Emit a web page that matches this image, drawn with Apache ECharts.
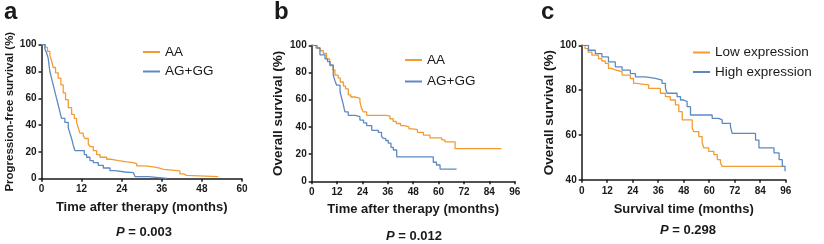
<!DOCTYPE html>
<html>
<head>
<meta charset="utf-8">
<script src="https://cdn.jsdelivr.net/npm/echarts@6/dist/echarts.min.js"></script>
<style>
  body { margin: 0; background: #fff; }
  #chart { width: 824px; height: 244px; }
</style>
</head>
<body>
<div id="chart"></div>
<script>
// panel a: progression-free survival
const pfsAaTime = [0, 1.2, 1.8, 2.5, 3.0, 3.5, 4.2, 5.0, 5.8, 6.5, 7.2, 8.0, 9.0, 9.8, 10.5, 11.0, 11.5, 12.5, 13.0, 14.0, 14.5, 15.5, 16.5, 17.5, 19.5, 21, 23, 25.5, 27.5, 28.5, 31, 33.5, 35, 36.5, 41.4, 42.5, 43.4, 52.9]
const pfsAaSurv = [100, 98, 95, 92, 88, 83, 79, 75, 70, 64, 59, 53, 48, 45, 42, 38, 34, 32, 30, 26, 24, 21, 18, 16, 14.5, 13.5, 12.5, 12, 11, 9.5, 8.8, 8, 7, 5.8, 3.6, 2.5, 1.5, 1.5]
const pfsAgTime = [0, 1.0, 1.5, 2.0, 2.5, 3.0, 3.5, 4.0, 4.5, 5.0, 5.5, 6.0, 7.0, 8.0, 8.5, 9.0, 9.5, 10.0, 12.8, 13.5, 14.5, 15.5, 17, 18.5, 20.5, 22, 25, 27.5, 28, 32, 37.5]
const pfsAgSurv = [100, 97, 94, 90, 80, 75, 70, 65, 60, 55, 50, 45, 42, 38, 34, 30, 25, 21, 18, 16, 13.5, 12, 10, 8, 6, 5, 4.5, 3.5, 1.5, 0.3, 0.3]

// panel b: overall survival by genotype
const osAaTime = [0, 2, 4, 5.5, 7, 8.5, 10, 11, 12.5, 13.5, 15, 16, 17.3, 18.5, 20.5, 22.8, 23.5, 24.4, 26, 35.5, 37, 38.5, 40, 42, 44, 46, 48, 50, 52.8, 55.9, 61.5, 63, 67.8, 89.7]
const osAaSurv = [100, 98, 96, 94, 90, 85, 82, 78, 76, 73, 70, 68, 63.5, 62, 61, 58.5, 54, 51, 48.5, 48, 46, 44, 42.5, 41, 40, 38.5, 38, 36, 34, 32, 30.5, 29, 24, 24]
const osAgTime = [0, 2.5, 3.9, 6.3, 7.5, 8.7, 10.2, 11.0, 11.8, 13.4, 14.2, 15, 15.7, 17.3, 20.5, 22.8, 24.5, 26, 28.4, 31.5, 33, 33.9, 35, 36.2, 37.5, 38.6, 40.2, 55.1, 57.5, 59, 60.7, 68.5]
const osAgSurv = [100, 98, 93, 90, 88, 85.5, 78, 74, 70.7, 66, 61, 56, 51, 48.5, 47.5, 45, 43, 41, 37.5, 36, 33, 31.5, 30, 28, 25, 23, 18, 18, 14, 12, 9, 9]

// panel c: overall survival by expression
const lowTime = [0, 1.6, 3, 4.8, 7.9, 9.5, 11.1, 12.6, 14, 15.8, 19, 22.9, 24.4, 26, 28.4, 31.5, 37, 39.4, 41.7, 44.1, 45.7, 47.3, 52, 52.7, 55.1, 56.7, 57.5, 59.8, 62.2, 63.8, 65.3, 66.1, 95.5]
const lowSurv = [100, 98.5, 97, 95.6, 94, 93, 91.9, 89.7, 89, 88.2, 86.7, 85.2, 83, 82.7, 82.3, 80.8, 78.6, 77.1, 75.6, 73.4, 70.4, 66.7, 63, 61.5, 59.3, 56.4, 54.2, 52.7, 51.2, 49, 47.5, 46, 46]
const highTime = [0, 3.2, 6.4, 9.5, 12.6, 15.8, 19, 22.9, 25.3, 30, 34.7, 37.8, 39.4, 40.2, 44.9, 46.5, 48, 49.6, 51.2, 61.4, 64.5, 66.1, 70, 70.8, 81.8, 83.4, 90.5, 92.9, 94.4, 95.7, 96]
const highSurv = [100, 97.8, 96.3, 94.8, 92.6, 90.4, 88.9, 87.4, 85.9, 85.2, 84.5, 83, 80.8, 78.6, 77.1, 75.6, 74.9, 72.6, 68.9, 67.4, 66.7, 65.2, 63.7, 60.7, 57.7, 54.2, 52, 49, 46, 43.8, 43.8]

const xMaxes = [60, 96, 96]
const yMins = [0, 0, 40]
const xTitles = ['Time after therapy (months)', 'Time after therapy (months)', 'Survival time (months)']
const yTitles = ['Progression-free survival (%)', 'Overall survival (%)', 'Overall survival (%)']
const pValues = ['0.003', '0.012', '0.298']
const letters = ['a', 'b', 'c']

const ORANGE = '#F49B33'
const BLUE = '#5D89C3'
const INK = '#1a1a1a'
const FONT = 'Liberation Sans'

function zip(t, s) {
  return t.map((v, i) => [v, s[i]])
}

const grids = [
  { left: 41.5, top: 44.7, width: 200.5, height: 134 },
  { left: 311.7, top: 45.3, width: 203, height: 136 },
  { left: 581.7, top: 45.3, width: 204, height: 134.5 }
]
const yNameSize = [11.5, 13.5, 13.5]
const yNameGap = [25, 26, 24.5]
const xNameGap = [22, 21.5, 23]
const pCenter = [144, 414, 688]
const pTop = [226, 230, 224]
const letterLeft = [4, 274, 541]

const axisLine = { onZero: false, lineStyle: { color: INK, width: 1.5 } }
const axisTick = { length: 3, lineStyle: { color: INK, width: 1.5 } }

const xAxis = grids.map((g, i) => ({
  type: 'value', gridIndex: i, min: 0, max: xMaxes[i], interval: 12,
  splitLine: { show: false }, axisLine: axisLine, axisTick: axisTick,
  axisLabel: { color: INK, fontFamily: FONT, fontWeight: 'bold', fontSize: 10, margin: 6 },
  name: xTitles[i], nameLocation: 'middle', nameGap: xNameGap[i],
  nameTextStyle: { color: INK, fontFamily: FONT, fontWeight: 'bold', fontSize: 13 }
}))

const yAxis = grids.map((g, i) => ({
  type: 'value', gridIndex: i, min: yMins[i], max: 100, interval: 20,
  splitLine: { show: false }, axisLine: axisLine, axisTick: axisTick,
  axisLabel: { color: INK, fontFamily: FONT, fontWeight: 'bold', fontSize: 10, margin: 5 },
  name: yTitles[i], nameLocation: 'middle', nameGap: yNameGap[i],
  nameTextStyle: { color: INK, fontFamily: FONT, fontWeight: 'bold', fontSize: yNameSize[i] }
}))

function km(name, idx, color, t, s) {
  return {
    name: name, type: 'line', xAxisIndex: idx, yAxisIndex: idx,
    step: 'end', showSymbol: false, symbol: 'none',
    lineStyle: { color: color, width: 1.3 }, itemStyle: { color: color },
    data: zip(t, s)
  }
}

const legendBase = {
  orient: 'vertical', icon: 'rect', itemWidth: 17, itemHeight: 2,
  selectedMode: false, padding: 0,
  textStyle: { color: INK, fontFamily: FONT, fontSize: 13.5 }
}

const titles = []
letters.forEach((l, i) => {
  titles.push({ text: l, left: letterLeft[i], top: 0.5, padding: 0,
    textStyle: { color: INK, fontFamily: FONT, fontWeight: 'bold', fontSize: 24 } })
  titles.push({ text: '{i|P} = ' + pValues[i], left: pCenter[i], top: pTop[i], textAlign: 'center', padding: 0,
    textStyle: { color: INK, fontFamily: FONT, fontWeight: 'bold', fontSize: 13,
      rich: { i: { fontStyle: 'italic', fontWeight: 'bold', fontFamily: FONT, fontSize: 13, color: INK } } } })
})

const chart = echarts.init(document.getElementById('chart'))
chart.setOption({
  backgroundColor: '#fff',
  animation: false,
  title: titles,
  grid: grids,
  xAxis: xAxis,
  yAxis: yAxis,
  legend: [
    Object.assign({}, legendBase, { data: ['AA', 'AG+GG'], left: 143, top: 45, itemGap: 5.5 }),
    Object.assign({}, legendBase, { data: ['AA', 'AG+GG'], left: 405, top: 53, itemGap: 7.5 }),
    Object.assign({}, legendBase, { data: ['Low expression', 'High expression'], left: 693, top: 45.5, itemGap: 5.5 })
  ],
  series: [
    km('AA', 0, ORANGE, pfsAaTime, pfsAaSurv),
    km('AG+GG', 0, BLUE, pfsAgTime, pfsAgSurv),
    km('AA', 1, ORANGE, osAaTime, osAaSurv),
    km('AG+GG', 1, BLUE, osAgTime, osAgSurv),
    km('Low expression', 2, ORANGE, lowTime, lowSurv),
    km('High expression', 2, BLUE, highTime, highSurv)
  ]
})
</script>
</body>
</html>
